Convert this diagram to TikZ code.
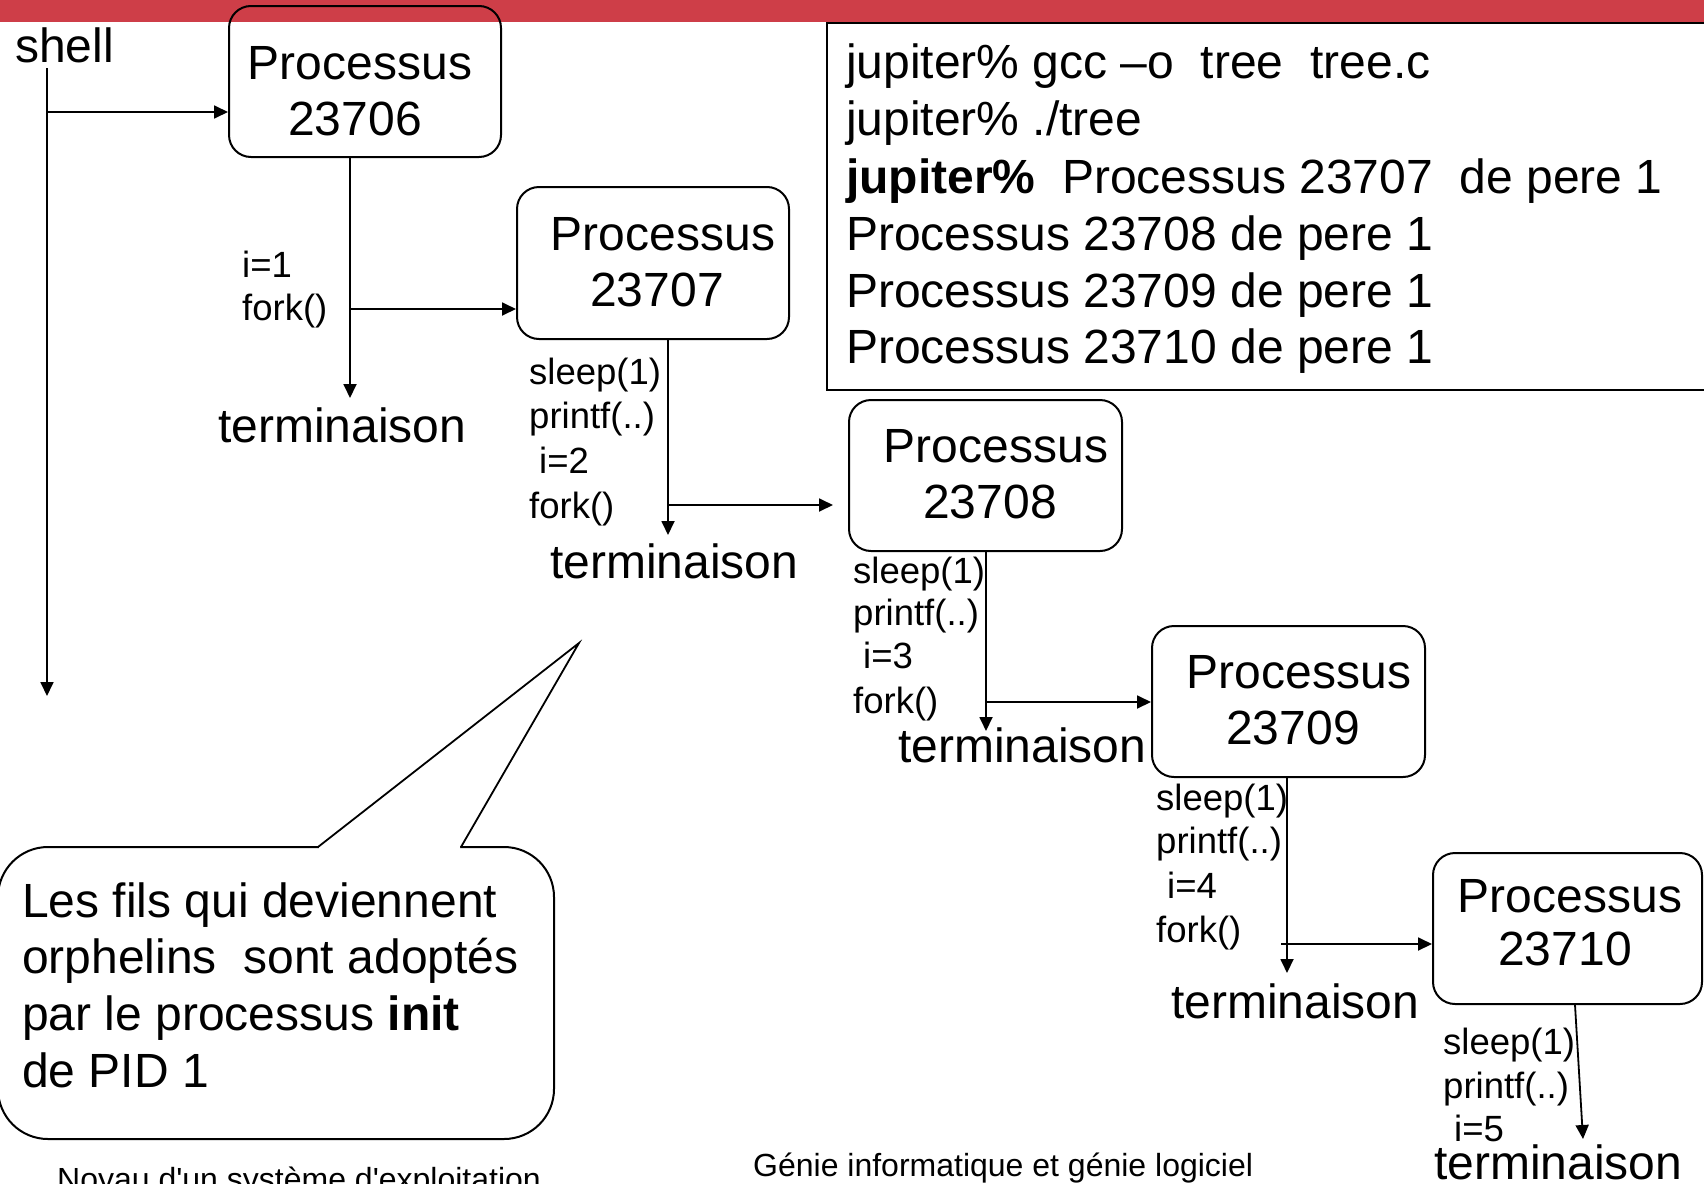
\documentclass[tikz,border=0pt]{standalone}
\usepackage{fontspec}
\setmainfont{Liberation Sans}
\usetikzlibrary{arrows.meta}
\definecolor{bandred}{RGB}{206,62,72}
\newcommand\bigtxt{\fontsize{48}{56}\selectfont}
\newcommand\smalltxt{\fontsize{36.5}{44}\selectfont}
\newcommand\foottxt{\fontsize{32}{38}\selectfont}

\begin{document}
\begin{tikzpicture}[x=1pt,y=-1pt,
  arr/.style={line width=1.8pt, -{Triangle[length=14pt,width=13pt]}},
  procbox/.style={draw, line width=2pt, rounded corners=22pt, inner sep=0pt},
  boxtxt/.style={anchor=base, inner sep=0pt, font=\bigtxt},
  big/.style={anchor=base west, inner sep=0pt, font=\bigtxt},
  small/.style={anchor=base west, inner sep=0pt, font=\smalltxt},
  foot/.style={anchor=base west, inner sep=0pt, font=\foottxt},
]
\useasboundingbox (0,0) rectangle (1704,1183);
\clip (0,0) rectangle (1704,1183);

% title band
\fill[bandred] (0,0) rectangle (1704,22);

% terminal output
\node[draw, line width=1.8pt, anchor=north west, inner sep=0pt,
  minimum width=900pt, minimum height=367pt] (term) at (826,22) {};
\node[big] (tl1) at (846,78)  {jupiter\% gcc –o\ \ tree\ \ tree.c};
\node[big] (tl2) at (846,135) {jupiter\% ./tree};
\node[big] (tl3) at (846,193) {\textbf{jupiter\%}\ \ Processus 23707\ \ de pere 1};
\node[big] (tl4) at (846,250) {Processus 23708 de pere 1};
\node[big] (tl5) at (846,307) {Processus 23709 de pere 1};
\node[big] (tl6) at (846,363) {Processus 23710 de pere 1};

% processes
\node[procbox, minimum width=272pt, minimum height=151pt] (p1) at (365,81.5) {};
\node[boxtxt] (p1a) at (360,79)  {Processus};
\node[boxtxt] (p1b) at (355,135) {23706};
\node[procbox, minimum width=272pt, minimum height=152pt] (p2) at (653,263) {};
\node[boxtxt] (p2a) at (663,250) {Processus};
\node[boxtxt] (p2b) at (657,306) {23707};
\node[procbox, minimum width=273pt, minimum height=151pt] (p3) at (985.5,475.5) {};
\node[boxtxt] (p3a) at (996,462) {Processus};
\node[boxtxt] (p3b) at (990,518) {23708};
\node[procbox, minimum width=273pt, minimum height=151pt] (p4) at (1288.5,701.5) {};
\node[boxtxt] (p4a) at (1299,688) {Processus};
\node[boxtxt] (p4b) at (1293,744) {23709};
\node[procbox, minimum width=269pt, minimum height=151pt] (p5) at (1567.5,928.5) {};
\node[boxtxt] (p5a) at (1570,912) {Processus};
\node[boxtxt] (p5b) at (1565,965) {23710};

% shell
\node[big] (shell) at (15,62) {shell};
\coordinate (sh0) at (47,68);
\coordinate (sh1) at (47,112);
\coordinate (shend) at (47,696);
\draw[arr] (sh0) -- (shend);
\draw[arr] (sh1) -- (sh1 -| p1.west);

% 23706
\coordinate (k1) at (350,309);
\coordinate (e1) at (350,398);
\draw[arr] (p1.south -| e1) -- (e1);
\draw[arr] (k1) -- (k1 -| p2.west);
\node[small] (i1) at (242,277) {i=1};
\node[small] (f1) at (242,320) {fork()};
\node[big] (term1) at (218,442) {terminaison};

% 23707
\coordinate (k2) at (668,505);
\coordinate (e2) at (668,535);
\coordinate (a2) at (833,505);
\draw[arr] (p2.south -| e2) -- (e2);
\draw[arr] (k2) -- (a2);
\node[small] (s2) at (529,384) {sleep(1)};
\node[small] (r2) at (529,428) {printf(..)};
\node[small] (i2) at (539,473) {i=2};
\node[small] (f2) at (529,518) {fork()};
\node[big] (term2) at (550,578) {terminaison};

% 23708
\coordinate (k3) at (986,702);
\coordinate (e3) at (986,731);
\draw[arr] (p3.south -| e3) -- (e3);
\draw[arr] (k3) -- (k3 -| p4.west);
\node[small] (s3) at (853,583) {sleep(1)};
\node[small] (r3) at (853,625) {printf(..)};
\node[small] (i3) at (863,668) {i=3};
\node[small] (f3) at (853,713) {fork()};
\node[big] (term3) at (898,762) {terminaison};

% 23709
\coordinate (k4) at (1281,944);
\coordinate (e4) at (1287,973);
\draw[arr] (p4.south -| e4) -- (e4);
\draw[arr] (k4) -- (k4 -| p5.west);
\node[small] (s4) at (1156,810) {sleep(1)};
\node[small] (r4) at (1156,853) {printf(..)};
\node[small] (i4) at (1167,898) {i=4};
\node[small] (f4) at (1156,942) {fork()};
\node[big] (term4) at (1171,1018) {terminaison};

% 23710
\coordinate (x5) at (1575,0);
\coordinate (e5) at (1583,1139);
\draw[arr] (p5.south -| x5) -- (e5);
\node[small] (s5) at (1443,1054) {sleep(1)};
\node[small] (r5) at (1443,1098) {printf(..)};
\node[small] (i5) at (1454,1141) {i=5};
\node[big] (term5) at (1434,1179) {terminaison};

% callout
\node[draw, fill=white, line width=2pt, rounded corners=50pt, inner sep=0pt,
  minimum width=556pt, minimum height=292pt] (callout) at (276,993) {};
\fill[white] (319,845) -- (579,643) -- (460,845) -- (460,850) -- (319,850) -- cycle;
\draw[line width=1.8pt, line join=miter] (318,847) -- (579,643) -- (461,847);
\node[big] (n1) at (22,917)  {Les fils qui deviennent};
\node[big] (n2) at (22,973)  {orphelins\ \ sont adoptés};
\node[big] (n3) at (22,1030) {par le processus \textbf{init}};
\node[big] (n4) at (22,1087) {de PID 1};

% footer
\node[foot] (foot1) at (57,1190) {Noyau d\textquotesingle un système d\textquotesingle exploitation};
\node[foot] (foot2) at (753,1176) {Génie informatique et génie logiciel};
\end{tikzpicture}
\end{document}
